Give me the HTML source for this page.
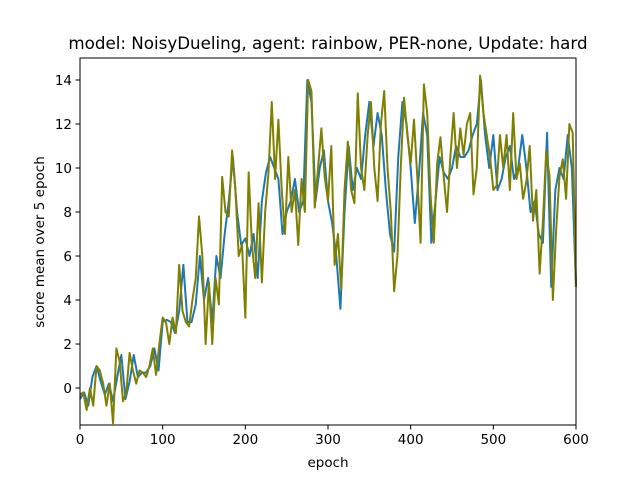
<!DOCTYPE html>
<html><head><meta charset="utf-8"><style>
body{margin:0;background:#fff;}
svg text{font-family:"DejaVu Sans","Liberation Sans",sans-serif;}
</style></head><body>
<svg id="chart" width="640" height="480" viewBox="0 0 640 480">
<rect width="640" height="480" fill="#fff"/>
<text x="328" y="49" text-anchor="middle" font-size="16.7">model: NoisyDueling, agent: rainbow, PER-none, Update: hard</text>
<g id="plot"></g>
<g id="axes"></g>
<text x="328" y="467" text-anchor="middle" font-size="13.5">epoch</text>
<text transform="translate(44,242) rotate(-90)" text-anchor="middle" font-size="13.5">score mean over 5 epoch</text>
</svg>
<script>
const xTicks=[0,100,200,300,400,500,600];
const yTicks=[0,2,4,6,8,10,12,14];
const blueValues=[-0.5,-0.2,-0.8,0.5,1.0,0.3,-0.3,0.2,-0.6,0.5,1.5,-0.5,0.3,1.5,0.5,0.7,0.7,1.0,1.8,0.8,3.0,3.1,3.0,2.5,3.5,5.6,3.0,3.0,3.8,6.0,4.0,5.0,3.0,6.0,5.0,7.0,8.5,10.5,8.0,6.5,6.8,6.0,7.0,5.0,8.5,9.8,10.5,10.0,9.5,7.0,8.0,8.5,9.5,8.0,8.5,14.0,13.0,8.5,10.0,10.8,8.5,7.5,6.0,3.6,8.0,11.0,9.0,10.0,9.5,11.5,13.0,11.0,12.5,11.5,9.0,7.0,6.2,10.5,13.0,12.0,10.0,7.5,9.7,12.5,11.5,6.6,8.5,10.5,9.8,9.5,10.0,11.0,10.5,10.5,10.8,11.5,12.0,14.0,11.5,10.0,11.5,9.0,9.5,10.5,11.0,9.5,10.0,11.5,10.0,8.0,8.5,7.0,6.6,11.6,4.6,9.0,10.0,9.5,11.5,10.0,4.6];
const oliveValues=[-0.3,-0.2,-1.0,0,-0.8,1.0,0.8,0.2,-0.8,0.2,-1.6,1.8,1.2,-0.6,-0.2,1.6,0.8,0.2,0.8,0.7,0.5,1.0,1.8,0.6,2.0,3.2,3.0,2.0,3.2,2.5,5.6,3.5,3.0,2.8,4.0,5.0,7.8,6.0,2.0,4.8,2.0,5.0,3.8,9.6,8.0,7.8,10.8,9.0,6.0,6.5,3.2,9.8,6.5,5.0,8.4,4.8,8.0,9.8,13.0,9.5,12.2,9.0,7.0,10.5,8.0,9.0,6.5,9.5,8.0,14.0,13.5,8.2,10.0,11.8,9.6,8.5,11.0,5.6,7.0,4.5,9.0,11.2,9.0,8.4,13.4,10.0,9.0,11.5,13.0,10.0,8.5,12.0,13.5,10.0,8.0,4.4,6.0,10.0,13.2,11.5,10.2,12.2,9.6,6.6,13.8,12.5,8.8,6.6,10.2,11.4,9.6,8.0,10.5,12.5,10.0,11.8,10.6,12.0,12.5,8.8,10.0,14.2,12.5,11.5,10.5,9.0,9.2,11.5,10.0,11.5,9.0,12.5,9.5,10.2,8.6,9.4,11.0,7.6,9.0,5.2,7.6,10.8,9.6,4.0,7.2,9.6,10.4,8.6,12.0,11.6,4.6];
const L=80,R=576,T=58,B=425,XMIN=0,XMAX=600,YMIN=-1.68,YMAX=15.0;
const sx=v=>L+(v-XMIN)/(XMAX-XMIN)*(R-L);
const sy=v=>B-(v-YMIN)/(YMAX-YMIN)*(B-T);
const NS="http://www.w3.org/2000/svg";
const plot=document.getElementById('plot'),axes=document.getElementById('axes');
function line(vals,color,name){
  const p=document.createElementNS(NS,'polyline');
  const step=(XMAX-XMIN)/(vals.length-1);
  p.setAttribute('points',vals.map((v,i)=>sx(i*step)+','+sy(v)).join(' '));
  p.setAttribute('fill','none');p.setAttribute('stroke',color);
  p.setAttribute('stroke-width','2');p.setAttribute('stroke-linejoin','round');
  
  
  plot.appendChild(p);
}
line(blueValues,'#1f77b4','blue-series-line');
line(oliveValues,'#808000','olive-series-line');
const fr=document.createElementNS(NS,'rect');
fr.setAttribute('x',L);fr.setAttribute('y',T);fr.setAttribute('width',R-L);fr.setAttribute('height',B-T);
fr.setAttribute('fill','none');fr.setAttribute('stroke','#000');fr.setAttribute('stroke-width','1');


axes.appendChild(fr);
xTicks.forEach(t=>{
  const x=sx(t);
  const l=document.createElementNS(NS,'line');
  l.setAttribute('x1',x);l.setAttribute('x2',x);l.setAttribute('y1',B);l.setAttribute('y2',B+4.5);l.setAttribute('stroke','#000');
  
  
  axes.appendChild(l);
  const tx=document.createElementNS(NS,'text');
  tx.setAttribute('x',x);tx.setAttribute('y',B+19);tx.setAttribute('text-anchor','middle');tx.setAttribute('font-size','13.5');
  tx.textContent=t;
  
  
  axes.appendChild(tx);
});
yTicks.forEach(t=>{
  const y=sy(t);
  const l=document.createElementNS(NS,'line');
  l.setAttribute('x1',L-4.5);l.setAttribute('x2',L);l.setAttribute('y1',y);l.setAttribute('y2',y);l.setAttribute('stroke','#000');
  
  
  axes.appendChild(l);
  const tx=document.createElementNS(NS,'text');
  tx.setAttribute('x',L-8);tx.setAttribute('y',y+5);tx.setAttribute('text-anchor','end');tx.setAttribute('font-size','13.5');
  tx.textContent=t;
  
  
  axes.appendChild(tx);
});
</script>
</body></html>
